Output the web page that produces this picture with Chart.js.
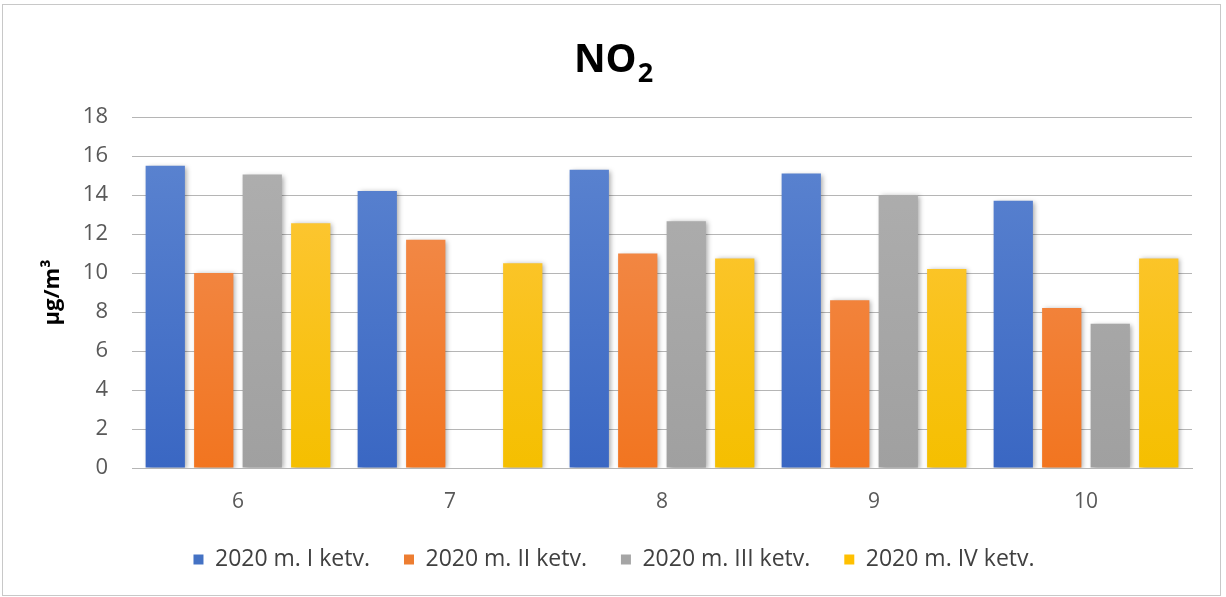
<!DOCTYPE html>
<html>
<head>
<meta charset="utf-8">
<script src="https://cdn.jsdelivr.net/npm/chart.js@4"></script>
<style>
  html, body { margin: 0; padding: 0; background: #fff; }
  #wrap { position: absolute; left: 0; top: 0; width: 1226px; height: 597px; }
  #frame { position: absolute; left: 2px; top: 4px; width: 1217px; height: 590px; border: 1px solid #c8c8c8; pointer-events: none; }
</style>
</head>
<body>
<div id="wrap"><canvas id="c" width="1226" height="597"></canvas><div id="frame"></div></div>
<script>
  // values
  const categories = ["6", "7", "8", "9", "10"];
  const seriesNames = ["2020 m. I ketv.", "2020 m. II ketv.", "2020 m. III ketv.", "2020 m. IV ketv."];
  const q1 = [15.5, 14.2, 15.3, 15.1, 13.7];
  const q2 = [10.0, 11.7, 11.0, 8.6, 8.2];
  const q3 = [15.05, 0, 12.65, 14.0, 7.4];
  const q4 = [12.55, 10.5, 10.75, 10.2, 10.75];
  const yTicks = [0, 2, 4, 6, 8, 10, 12, 14, 16, 18];

  const FONT = "'Open Sans', Lato, sans-serif";
  const colors = [
    ["#5e86d1", "#3a67c3", "#4472c4"],
    ["#f29158", "#f27520", "#ed7d31"],
    ["#b0b0b0", "#a0a0a0", "#a5a5a5"],
    ["#ffc843", "#f5bf00", "#ffc000"]
  ];

  function grad(i) {
    return function (ctx) {
      const chart = ctx.chart, a = chart.chartArea;
      if (!a) return colors[i][2];
      const g = chart.ctx.createLinearGradient(0, a.top, 0, a.bottom);
      g.addColorStop(0, colors[i][0]);
      g.addColorStop(1, colors[i][1]);
      return g;
    };
  }

  const shadow = {
    id: "shadow",
    beforeDatasetsDraw(chart) {
      const c = chart.ctx;
      c.save();
      c.shadowColor = "rgba(0,0,0,0.35)";
      c.shadowBlur = 5;
      c.shadowOffsetX = 2;
      c.shadowOffsetY = 1;
    },
    afterDatasetsDraw(chart) { chart.ctx.restore(); }
  };

  // title "NO2" with a subscript 2
  const titlePlugin = {
    id: "no2title",
    afterDraw(chart) {
      const c = chart.ctx;
      c.save();
      c.fillStyle = "#000";
      c.textBaseline = "alphabetic";
      c.font = "bold 39px " + FONT;
      const w1 = c.measureText("NO").width;
      c.font = "bold 27px " + FONT;
      const w2 = c.measureText("2").width;
      const x = 613 - (w1 + w2) / 2;
      c.font = "bold 39px " + FONT;
      c.fillText("NO", x, 72);
      c.font = "bold 27px " + FONT;
      c.fillText("2", x + w1 + 1, 82);
      c.restore();
    }
  };

  const datasets = [q1, q2, q3, q4].map((d, i) => ({
    label: seriesNames[i],
    data: d,
    backgroundColor: grad(i),
    borderWidth: 0,
    categoryPercentage: 0.915,
    barPercentage: 0.81
  }));

  new Chart(document.getElementById("c"), {
    type: "bar",
    data: { labels: categories, datasets: datasets },
    plugins: [shadow, titlePlugin],
    options: {
      responsive: false,
      animation: false,
      layout: { padding: { top: 117, left: 36, right: 34, bottom: 16 } },
      plugins: {
        title: { display: false },
        tooltip: { enabled: false },
        legend: {
          position: "bottom",
          labels: {
            color: "#404040",
            font: { family: FONT, size: 23 },
            boxWidth: 10, boxHeight: 10,
            padding: 34,
            generateLabels(chart) {
              return chart.data.datasets.map((ds, i) => ({
                text: ds.label, fillStyle: colors[i][2], strokeStyle: colors[i][2],
                lineWidth: 0, datasetIndex: i, fontColor: "#404040"
              }));
            }
          }
        }
      },
      scales: {
        x: {
          grid: { display: false, drawTicks: false },
          border: { color: "#b5b5b5", width: 1 },
          ticks: { color: "#595959", font: { family: FONT, size: 21 }, padding: 21 },
          afterFit(s) { s.height = 46; }
        },
        y: {
          min: 0, max: 18,
          afterBuildTicks(s) { s.ticks = yTicks.map(v => ({ value: v })); },
          grid: { color: "#b5b5b5", drawTicks: false, lineWidth: 1 },
          border: { display: false },
          ticks: { color: "#595959", font: { family: FONT, size: 22 }, padding: 24 },
          title: { display: true, text: "μg/m³", color: "#000", font: { family: FONT, size: 22, weight: "bold" }, padding: 4 },
          afterFit(s) { s.width = 96; }
        }
      }
    }
  });
</script>
</body>
</html>
